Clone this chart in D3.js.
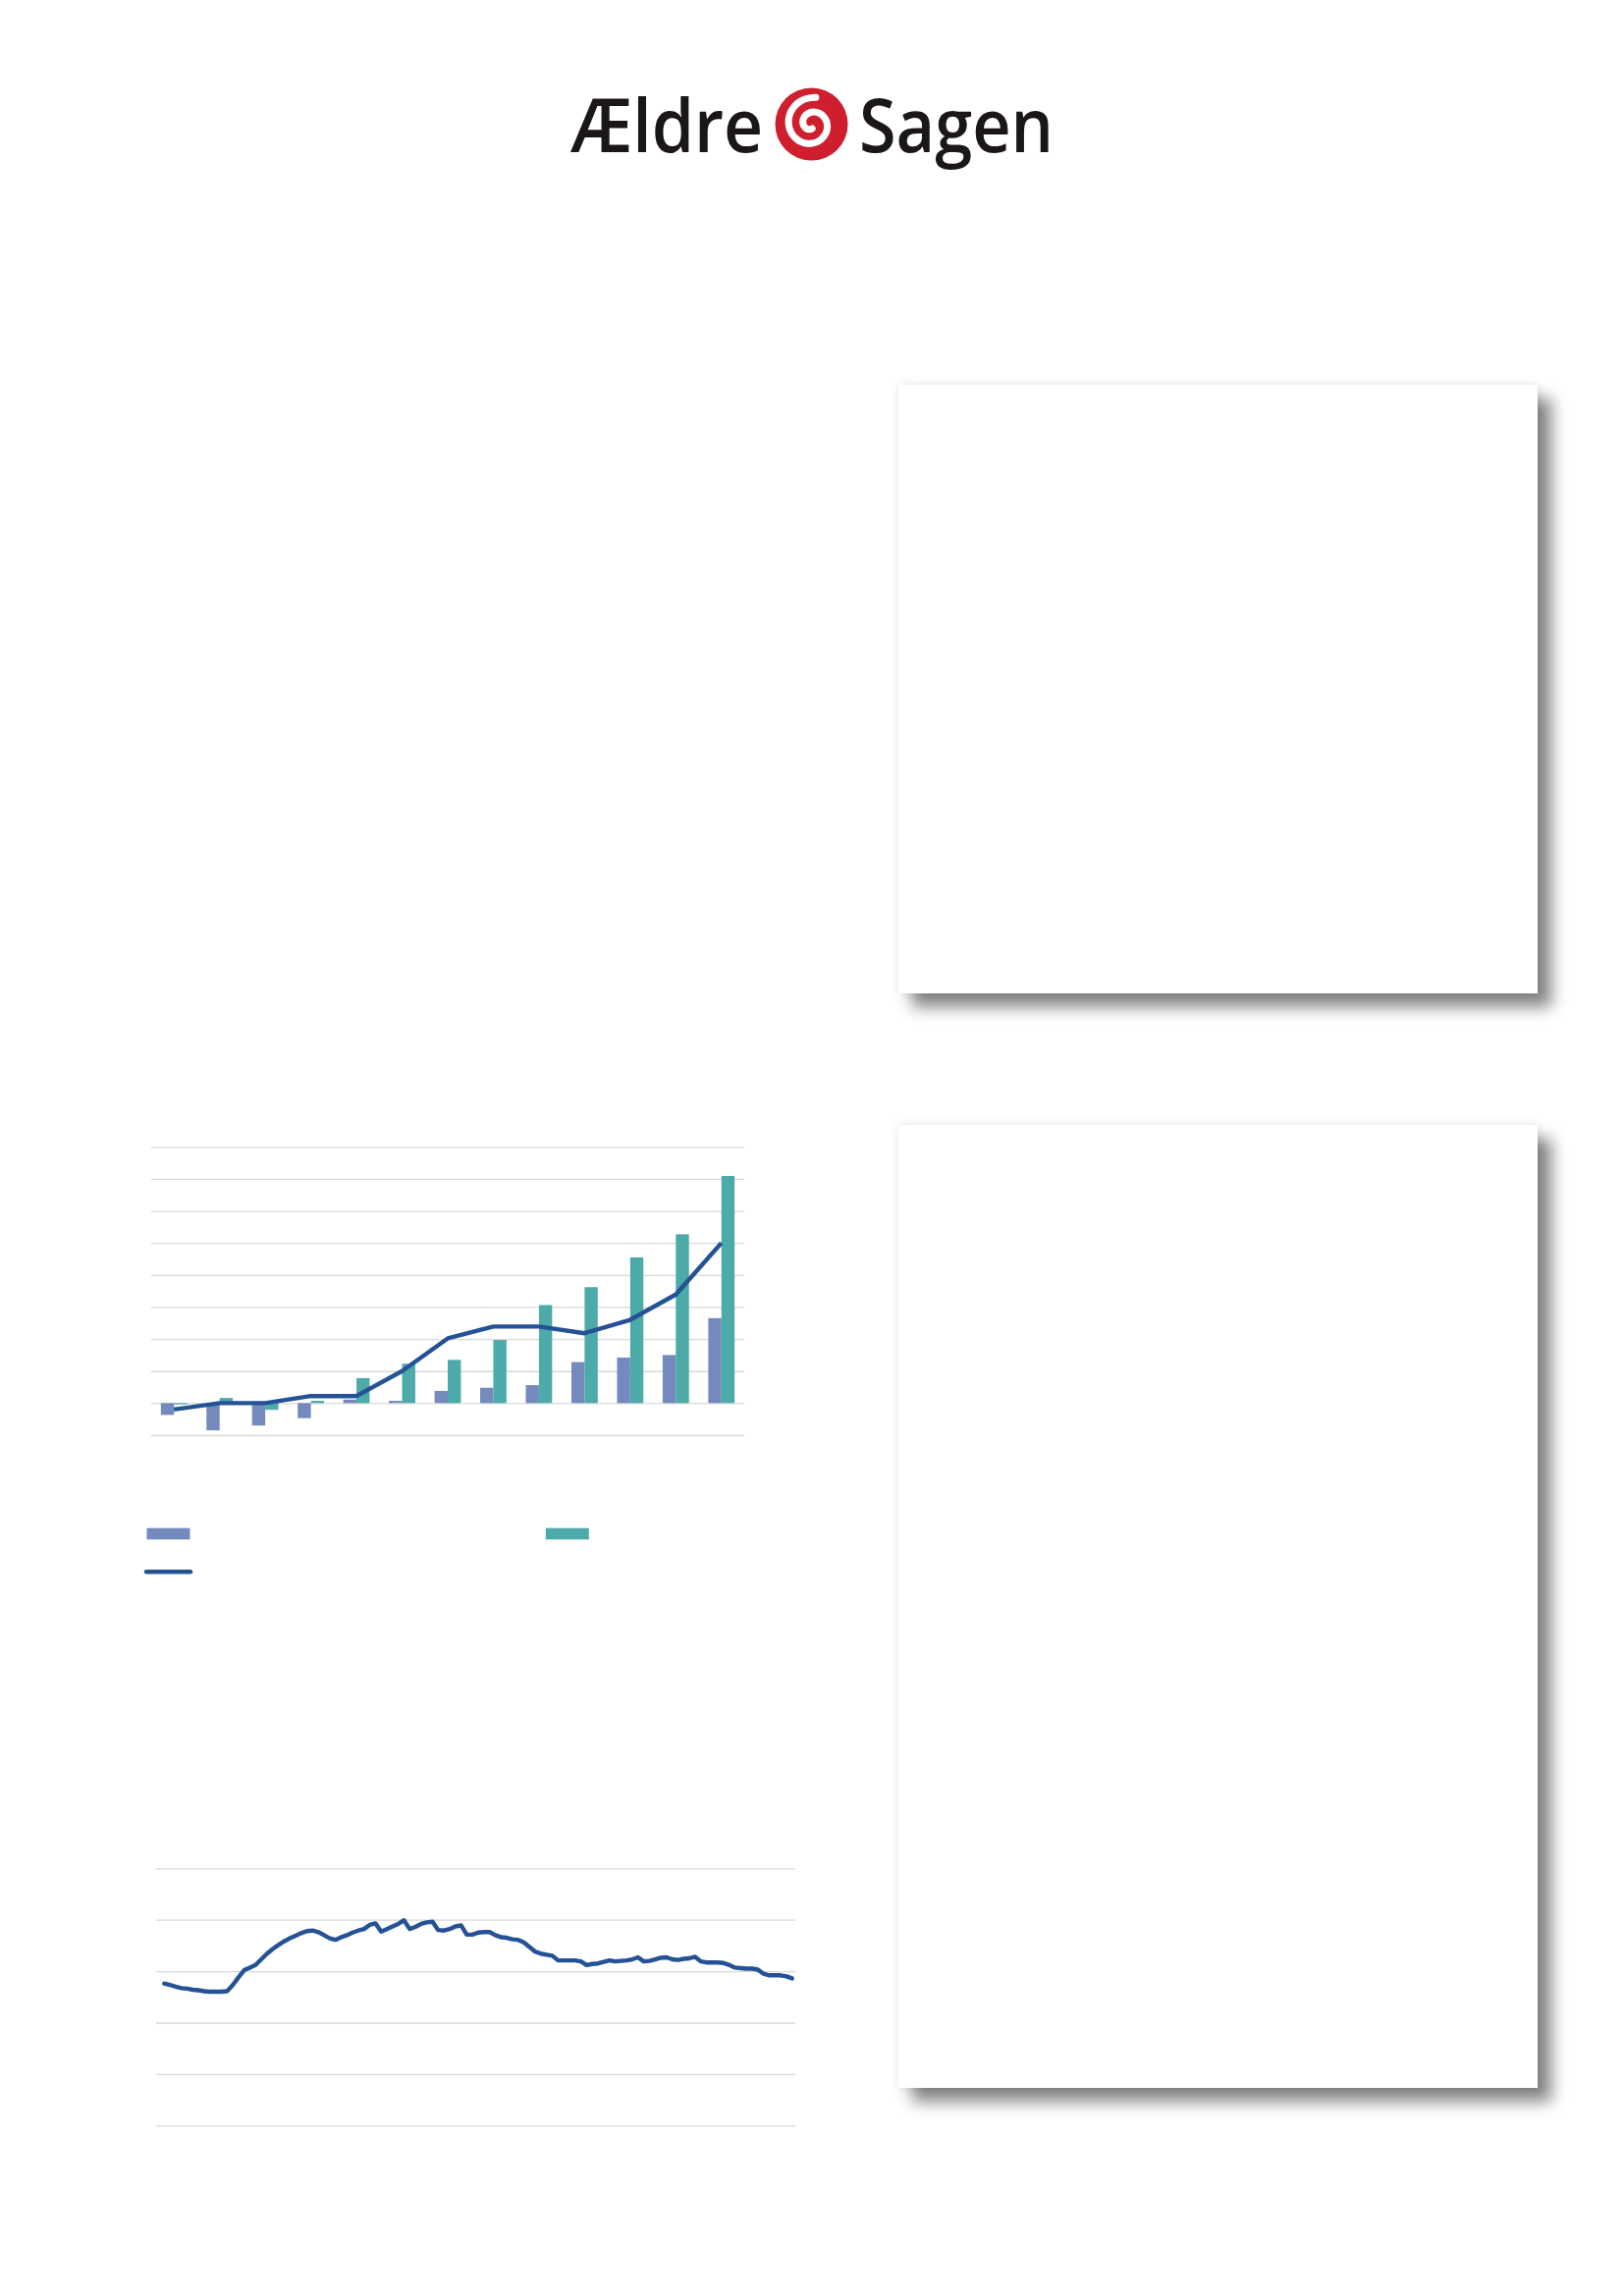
<!DOCTYPE html>
<html><head><meta charset="utf-8">
<script src="https://cdn.jsdelivr.net/npm/d3@7"></script>
<style>
html,body{margin:0;padding:0;background:#ffffff;}
body{width:1654px;height:2339px;position:relative;overflow:hidden;}
.card{position:absolute;background:#ffffff;box-shadow:14px 14px 15px rgba(0,0,0,0.48),0 0 10px rgba(0,0,0,0.10);}
#page{position:absolute;left:0;top:0;}
</style></head><body>
<div class="card" style="left:915px;top:392px;width:651px;height:620px"></div>
<div class="card" style="left:915px;top:1146px;width:651px;height:981px"></div>
<svg id="page" width="1654" height="2339"></svg>
<script>
// ---------- DATA ----------
const logoWords = ["Ældre", "Sagen"];

const barCategories = ["1","2","3","4","5","6","7","8","9","10","11","12","13"];
const seriesPurple = [-0.37,-0.85,-0.70,-0.47,0.11,0.07,0.38,0.48,0.56,1.28,1.42,1.50,2.65];
const seriesTeal   = [-0.04,0.16,-0.21,0.07,0.78,1.23,1.35,1.97,3.06,3.62,4.55,5.27,7.09];
const seriesLine   = [-0.20,0.00,0.00,0.22,0.22,1.00,2.02,2.39,2.39,2.18,2.60,3.39,5.00];
const barTicks = [-1,0,1,2,3,4,5,6,7,8];

const lineValues = [
2.76,2.73,2.70,2.67,2.66,2.64,2.63,2.61,2.60,2.60,
2.60,2.61,2.73,2.88,3.02,3.07,3.12,3.23,3.34,3.43,
3.51,3.58,3.64,3.69,3.74,3.78,3.79,3.76,3.70,3.64,
3.61,3.66,3.70,3.75,3.79,3.82,3.90,3.93,3.77,3.82,
3.87,3.92,3.99,3.82,3.86,3.92,3.95,3.96,3.80,3.79,
3.82,3.87,3.89,3.71,3.71,3.75,3.76,3.76,3.70,3.66,
3.65,3.62,3.61,3.56,3.47,3.38,3.34,3.32,3.30,3.21,
3.21,3.21,3.21,3.19,3.12,3.14,3.15,3.18,3.21,3.19,
3.20,3.21,3.23,3.27,3.19,3.20,3.23,3.26,3.27,3.23,
3.22,3.24,3.25,3.28,3.19,3.17,3.17,3.17,3.16,3.12,
3.07,3.06,3.05,3.05,3.03,2.95,2.92,2.92,2.92,2.90,
2.86];
const lineTicks = [0,1,2,3,4,5];

// ---------- STYLE ----------
const cPurple = "#7489bc", cTeal = "#4caaa8", cLine = "#245294", cGrid = "#d9d9d9", cRed = "#cf1f2e";

const svg = d3.select("#page");

// ---------- LOGO ----------
const logo = svg.append("g");
logo.append("text").attr("x",581).attr("y",154.7)
  .attr("font-family","Open Sans").attr("font-weight",600).attr("font-size",76)
  .attr("fill","#1a1716").attr("textLength",196).attr("lengthAdjust","spacingAndGlyphs")
  .text(logoWords[0]);
logo.append("text").attr("x",875).attr("y",154.7)
  .attr("font-family","Open Sans").attr("font-weight",600).attr("font-size",76)
  .attr("fill","#1a1716").attr("textLength",198).attr("lengthAdjust","spacingAndGlyphs")
  .text(logoWords[1]);
const sw = logo.append("g").attr("transform","translate(826.5,126.5)");
sw.append("circle").attr("r",37).attr("fill",cRed);
const spiralPts = d3.range(0,1.0001,0.02).map(t=>{
  const r = 27.5 - 23*t, a = -Math.PI*0.45 - t*Math.PI*3.1;
  return [r*Math.cos(a), r*Math.sin(a)];
});
sw.append("path").attr("d", d3.line().curve(d3.curveBasis)(spiralPts))
  .attr("fill","none").attr("stroke","#ffffff").attr("stroke-width",7).attr("stroke-linecap","round");

// ---------- BAR CHART ----------
const bx0 = d3.scaleBand().domain(barCategories).range([154,758]).paddingInner(0.423).paddingOuter(0.2115);
const bx1 = d3.scaleBand().domain(["p","t"]).range([0,bx0.bandwidth()]);
const by = d3.scaleLinear().domain([-1,8]).range([1462,1168.3]);
const bar = svg.append("g");
bar.append("g").attr("transform","translate(154,0)")
  .call(d3.axisLeft(by).tickValues(barTicks).tickSize(-604).tickFormat(""))
  .call(g=>g.select(".domain").remove())
  .call(g=>g.selectAll(".tick line").attr("stroke",cGrid).attr("stroke-width",1.3));
bar.selectAll("rect.p").data(seriesPurple).join("rect").attr("class","p")
  .attr("x",(d,i)=>bx0(barCategories[i])+bx1("p")).attr("width",bx1.bandwidth())
  .attr("y",d=>by(Math.max(0,d))).attr("height",d=>Math.abs(by(d)-by(0)))
  .attr("fill",cPurple);
bar.selectAll("rect.t").data(seriesTeal).join("rect").attr("class","t")
  .attr("x",(d,i)=>bx0(barCategories[i])+bx1("t")).attr("width",bx1.bandwidth())
  .attr("y",d=>by(Math.max(0,d))).attr("height",d=>Math.abs(by(d)-by(0)))
  .attr("fill",cTeal);
bar.append("path").datum(seriesLine)
  .attr("d", d3.line().x((d,i)=>bx0(barCategories[i])+bx0.bandwidth()/2).y(d=>by(d)))
  .attr("fill","none").attr("stroke",cLine).attr("stroke-width",4.4).attr("stroke-linejoin","round");

// legend
const lg = svg.append("g");
lg.append("rect").attr("x",149.5).attr("y",1556.7).attr("width",44).attr("height",11.6).attr("fill",cPurple);
lg.append("rect").attr("x",555.8).attr("y",1556.7).attr("width",44).attr("height",11.6).attr("fill",cTeal);
lg.append("line").attr("x1",149).attr("x2",194).attr("y1",1601.3).attr("y2",1601.3)
  .attr("stroke",cLine).attr("stroke-width",4.4).attr("stroke-linecap","round");

// ---------- LINE CHART ----------
const lx = d3.scaleLinear().domain([0,lineValues.length-1]).range([167.3,806.7]);
const ly = d3.scaleLinear().domain([0,5]).range([2165.3,1903.3]);
const lc = svg.append("g");
lc.append("g").attr("transform","translate(159,0)")
  .call(d3.axisLeft(ly).tickValues(lineTicks).tickSize(-651).tickFormat(""))
  .call(g=>g.select(".domain").remove())
  .call(g=>g.selectAll(".tick line").attr("stroke",cGrid).attr("stroke-width",1.3));
lc.append("path").datum(lineValues)
  .attr("d", d3.line().x((d,i)=>lx(i)).y(d=>ly(d)))
  .attr("fill","none").attr("stroke",cLine).attr("stroke-width",4.4)
  .attr("stroke-linejoin","round").attr("stroke-linecap","round");
</script>
</body></html>
